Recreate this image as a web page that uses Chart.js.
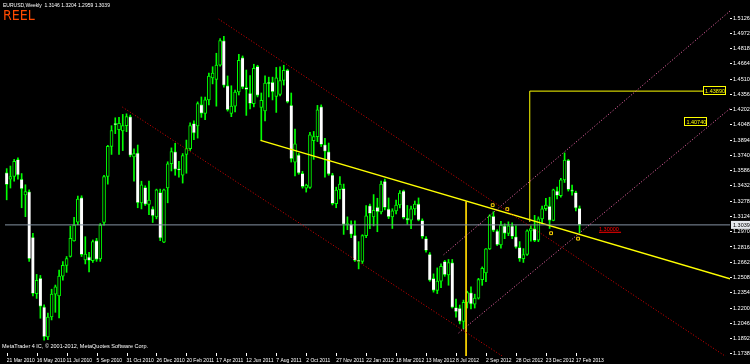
<!DOCTYPE html>
<html>
<head>
<meta charset="utf-8">
<script src="https://cdn.jsdelivr.net/npm/chart.js@4.4.1/dist/chart.umd.min.js"></script>
<style>
  html, body { margin: 0; padding: 0; background: #000; }
  canvas { display: block; }
</style>
</head>
<body>
<canvas id="chart" width="750" height="364"></canvas>
<script>
"use strict";

// EURUSD weekly bars, bar 0 = week of 21 Mar 2010
const opens = [
  1.3567, 1.3500, 1.3527, 1.3700, 1.3501, 1.3341, 1.3375, 1.2917, 1.2346, 1.2502,
  1.2213, 1.1908, 1.2110, 1.2340, 1.2323, 1.2522, 1.2630, 1.2720, 1.2877, 1.3066,
  1.3315, 1.2685, 1.2718, 1.2678, 1.2880, 1.2695, 1.3063, 1.3527, 1.3832, 1.4064,
  1.4000, 1.3988, 1.4041, 1.4131, 1.3726, 1.3766, 1.3262, 1.3418, 1.3245, 1.3202,
  1.3119, 1.3368, 1.2864, 1.3411, 1.3656, 1.3780, 1.3607, 1.3540, 1.3749, 1.3809,
  1.4064, 1.4038, 1.4253, 1.4164, 1.4300, 1.4522, 1.4506, 1.4652, 1.4900, 1.4446,
  1.4164, 1.4237, 1.4380, 1.4728, 1.4426, 1.4370, 1.4263, 1.4638, 1.4224, 1.4190,
  1.4479, 1.4479, 1.4336, 1.4356, 1.4496, 1.4602, 1.4247, 1.3673, 1.3746, 1.3560,
  1.3410, 1.3418, 1.3890, 1.3930, 1.4234, 1.3849, 1.3780, 1.3544, 1.3252, 1.3394,
  1.3408, 1.3043, 1.3046, 1.2937, 1.2678, 1.2671, 1.2930, 1.3235, 1.3119, 1.3219,
  1.3169, 1.3480, 1.3202, 1.3119, 1.3180, 1.3240, 1.3384, 1.3109, 1.3086, 1.3200,
  1.3252, 1.3086, 1.2903, 1.2744, 1.2500, 1.2379, 1.2472, 1.2671, 1.2535, 1.2658,
  1.2207, 1.2200, 1.2064, 1.2257, 1.2356, 1.2240, 1.2300, 1.2486, 1.2555, 1.2797,
  1.3129, 1.2980, 1.2837, 1.3029, 1.2953, 1.3029, 1.2920, 1.2813, 1.2697, 1.2740,
  1.2979, 1.3003, 1.2886, 1.3100, 1.3202, 1.3228, 1.3085, 1.3384, 1.3334, 1.3493,
  1.3693, 1.3394, 1.3367, 1.3208
];
const highs = [
  1.3607, 1.3633, 1.3700, 1.3716, 1.3557, 1.3444, 1.3394, 1.2953, 1.2539, 1.2529,
  1.2233, 1.2150, 1.2390, 1.2432, 1.2582, 1.2670, 1.2720, 1.3026, 1.3116, 1.3330,
  1.3333, 1.2920, 1.2761, 1.2887, 1.2903, 1.3053, 1.3540, 1.3842, 1.4040, 1.4120,
  1.4124, 1.4154, 1.4160, 1.4147, 1.3806, 1.3845, 1.3480, 1.3434, 1.3480, 1.3222,
  1.3400, 1.3400, 1.3400, 1.3676, 1.3816, 1.3862, 1.3680, 1.3759, 1.3895, 1.4070,
  1.4090, 1.4280, 1.4330, 1.4330, 1.4570, 1.4635, 1.4771, 1.4920, 1.4943, 1.4542,
  1.4443, 1.4400, 1.4760, 1.4744, 1.4602, 1.4545, 1.4660, 1.4650, 1.4370, 1.4542,
  1.4530, 1.4530, 1.4628, 1.4635, 1.4650, 1.4610, 1.4370, 1.4005, 1.3760, 1.3580,
  1.3450, 1.3972, 1.3982, 1.4245, 1.4250, 1.3912, 1.3865, 1.3560, 1.3420, 1.3527,
  1.3451, 1.3120, 1.3080, 1.3079, 1.2870, 1.2940, 1.3235, 1.3250, 1.3345, 1.3308,
  1.3480, 1.3501, 1.3311, 1.3202, 1.3290, 1.3385, 1.3390, 1.3235, 1.3230, 1.3280,
  1.3311, 1.3100, 1.2920, 1.2760, 1.2545, 1.2605, 1.2645, 1.2680, 1.2690, 1.2690,
  1.2290, 1.2230, 1.2280, 1.2370, 1.2413, 1.2340, 1.2500, 1.2615, 1.2800, 1.3142,
  1.3172, 1.2990, 1.3075, 1.3050, 1.3070, 1.3060, 1.3029, 1.2870, 1.2800, 1.2990,
  1.3029, 1.3135, 1.3120, 1.3230, 1.3308, 1.3318, 1.3400, 1.3420, 1.3510, 1.3765,
  1.3700, 1.3440, 1.3380, 1.3230
];
const lows = [
  1.3292, 1.3411, 1.3480, 1.3500, 1.3212, 1.3122, 1.2671, 1.2323, 1.2297, 1.2097,
  1.1875, 1.1880, 1.2080, 1.2157, 1.2101, 1.2480, 1.2560, 1.2714, 1.2874, 1.3040,
  1.2720, 1.2645, 1.2565, 1.2660, 1.2671, 1.2671, 1.3036, 1.3450, 1.3750, 1.3960,
  1.3749, 1.3789, 1.3980, 1.3726, 1.3481, 1.3212, 1.3200, 1.3235, 1.3142, 1.3063,
  1.3100, 1.2880, 1.2860, 1.3262, 1.3583, 1.3540, 1.3520, 1.3461, 1.3560, 1.3790,
  1.3900, 1.3915, 1.4124, 1.4100, 1.4250, 1.4462, 1.4237, 1.4640, 1.4430, 1.4187,
  1.4131, 1.4180, 1.4350, 1.4413, 1.4144, 1.4210, 1.4230, 1.4330, 1.3892, 1.4088,
  1.4330, 1.4300, 1.4174, 1.4340, 1.4450, 1.4270, 1.3673, 1.3534, 1.3550, 1.3410,
  1.3370, 1.3408, 1.3700, 1.3880, 1.3830, 1.3520, 1.3540, 1.3240, 1.3212, 1.3302,
  1.2943, 1.2990, 1.2910, 1.2671, 1.2595, 1.2650, 1.2910, 1.3000, 1.3029, 1.2970,
  1.3150, 1.3190, 1.3102, 1.3003, 1.3150, 1.3210, 1.3100, 1.3046, 1.3000, 1.3140,
  1.3080, 1.2903, 1.2764, 1.2470, 1.2360, 1.2346, 1.2406, 1.2520, 1.2430, 1.2200,
  1.2107, 1.2040, 1.1990, 1.2200, 1.2190, 1.2200, 1.2290, 1.2429, 1.2466, 1.2790,
  1.2970, 1.2830, 1.2804, 1.2900, 1.2930, 1.2900, 1.2804, 1.2671, 1.2660, 1.2730,
  1.2876, 1.2870, 1.2870, 1.3060, 1.3185, 1.3003, 1.3080, 1.3300, 1.3320, 1.3467,
  1.3380, 1.3340, 1.3180, 1.2959
];
const closes = [
  1.3444, 1.3527, 1.3680, 1.3540, 1.3401, 1.3375, 1.2695, 1.2346, 1.2480, 1.2217,
  1.1908, 1.2110, 1.2340, 1.2413, 1.2522, 1.2630, 1.2700, 1.2903, 1.3036, 1.3300,
  1.2738, 1.2744, 1.2678, 1.2870, 1.2691, 1.3036, 1.3527, 1.3832, 1.3990, 1.4048,
  1.4064, 1.4041, 1.4131, 1.3739, 1.3759, 1.3262, 1.3444, 1.3245, 1.3290, 1.3129,
  1.3394, 1.2904, 1.3394, 1.3656, 1.3780, 1.3600, 1.3590, 1.3739, 1.3809, 1.4040,
  1.3965, 1.4263, 1.4164, 1.4300, 1.4540, 1.4572, 1.4652, 1.4900, 1.4446, 1.4200,
  1.4237, 1.4380, 1.4700, 1.4429, 1.4403, 1.4263, 1.4620, 1.4346, 1.4297, 1.4469,
  1.4462, 1.4380, 1.4522, 1.4496, 1.4600, 1.4280, 1.3706, 1.3856, 1.3560, 1.3424,
  1.3440, 1.3948, 1.3930, 1.4200, 1.3849, 1.3780, 1.3550, 1.3252, 1.3390, 1.3451,
  1.3043, 1.3050, 1.2943, 1.2678, 1.2671, 1.2930, 1.3130, 1.3152, 1.3185, 1.3169,
  1.3450, 1.3212, 1.3119, 1.3180, 1.3240, 1.3360, 1.3112, 1.3086, 1.3200, 1.3250,
  1.3086, 1.2920, 1.2780, 1.2479, 1.2379, 1.2472, 1.2620, 1.2535, 1.2658, 1.2207,
  1.2160, 1.2064, 1.2257, 1.2356, 1.2240, 1.2300, 1.2486, 1.2600, 1.2797, 1.3130,
  1.2983, 1.2837, 1.3036, 1.2953, 1.3030, 1.2920, 1.2813, 1.2697, 1.2740, 1.2979,
  1.3003, 1.2880, 1.3100, 1.3202, 1.3240, 1.3085, 1.3394, 1.3334, 1.3493, 1.3693,
  1.3394, 1.3374, 1.3208, 1.3039
];

// one time label every 8 bars
const dateLabels = [
  "21 Mar 2010", "16 May 2010", "11 Jul 2010", "5 Sep 2010", "31 Oct 2010",
  "26 Dec 2010", "20 Feb 2011", "17 Apr 2011", "12 Jun 2011", "7 Aug 2011",
  "2 Oct 2011", "27 Nov 2011", "22 Jan 2012", "18 Mar 2012", "13 May 2012",
  "8 Jul 2012", "2 Sep 2012", "28 Oct 2012", "23 Dec 2012", "17 Feb 2013"
];
const dateStep = 8;
const priceTicks = [
  1.5126, 1.4972, 1.4818, 1.4664, 1.4510, 1.4356, 1.4202, 1.4048, 1.3894, 1.3740,
  1.3586, 1.3432, 1.3278, 1.3124, 1.2970, 1.2816, 1.2662, 1.2508, 1.2354, 1.2200,
  1.2046, 1.1892, 1.1738
];
const lastPrice = 1.3039;
const titleText = "EURUSD,Weekly  1.3146 1.3204 1.2959 1.3039";

// objects drawn on the chart, as [bar index, price]
const trendLine = [[67.8, 1.3892], [193.2, 1.2495]];
const redUpper = [[56.6, 1.5116], [193.2, 1.1682]];
const redLower = [[30.9, 1.4228], [133.5, 1.1687]];
const pinkUpper = [[116.7, 1.2738], [193.2, 1.5198]];
const pinkLower = [[120.7, 1.1948], [193.2, 1.4213]];
const lowMeasure = [[122.7, 1.3275], [122.7, 1.1716]];
const targetLine = [[139.7, 1.3069], [139.7, 1.4389], [186.0, 1.4389]];
const arrowMarks = [[129.8, 1.3238], [133.7, 1.3198], [145.4, 1.2955], [152.6, 1.2900]];
const targetBoxes = [
  { at: [186.0, 1.4389], text: "1.43890" },
  { at: [181.0, 1.4074], text: "1.40740" }
];
const redLabel = { at: [158.2, 1.3000], text: "1.30000" };

const bars = opens.map((o, i) => i);
const pts = (arr) => arr.map(([x, y]) => ({ x, y }));

function lineSet(data, color, dash, width) {
  return {
    type: "line",
    data: pts(data),
    borderColor: color,
    borderWidth: width || 1,
    borderDash: dash || [],
    pointRadius: 0,
    fill: false,
    tension: 0,
    order: 0,
  };
}

const textPlugin = {
  id: "mtText",
  beforeDraw(chart) {
    const c = chart.ctx;
    c.save();
    c.fillStyle = "#000";
    c.fillRect(0, 0, chart.width, chart.height);
    c.restore();
  },
  afterDraw(chart) {
    const c = chart.ctx;
    const xs = chart.scales.x;
    const ys = chart.scales.y;
    c.save();
    c.textBaseline = "alphabetic";

    c.fillStyle = "#ffffff";
    c.font = '5px "Liberation Sans"';
    c.fillText(titleText, 3, 7);

    c.fillStyle = "#ff4a00";
    c.font = '14px "Liberation Sans Narrow", "DejaVu Sans Condensed", sans-serif';
    c.fillText("REEL", 3, 20);

    c.fillStyle = "#ffffff";
    c.font = '5.5px "Liberation Sans"';
    c.fillText("MetaTrader 4 IC, \u00a9 2001-2012, MetaQuotes Software Corp.", 2, 348);

    // time scale
    c.font = '5px "Liberation Sans"';
    c.fillStyle = "#ffffff";
    dateLabels.forEach((t, k) => {
      const px = xs.getPixelForValue(k * dateStep);
      c.fillText(t, px, 362);
      c.fillRect(Math.round(px), 353, 1, 3);
    });

    // target boxes
    c.font = '5.5px "Liberation Sans"';
    targetBoxes.forEach((b) => {
      const px = xs.getPixelForValue(b.at[0]);
      const py = ys.getPixelForValue(b.at[1]);
      c.strokeStyle = "#ffff00";
      c.lineWidth = 1;
      c.strokeRect(Math.round(px) + 0.5, Math.round(py) - 4.5, 22, 8);
      c.fillStyle = "#ffff00";
      c.fillText(b.text, px + 2, py + 2);
    });

    // red label
    const rx = xs.getPixelForValue(redLabel.at[0]);
    const ry = ys.getPixelForValue(redLabel.at[1]);
    c.fillStyle = "#ff0000";
    c.fillText(redLabel.text, rx, ry + 2);
    c.fillRect(rx, ry + 3, 22, 1);

    // last price tag on the axis
    const ly = ys.getPixelForValue(lastPrice);
    c.fillStyle = "#e6e9ee";
    c.fillRect(ys.left + 1, ly - 4, 20, 8);
    c.fillStyle = "#000";
    c.fillText(lastPrice.toFixed(4), ys.left + 3, ly + 2);
    c.restore();
  },
};

new Chart(document.getElementById("chart"), {
  type: "bar",
  data: {
    datasets: [
      lineSet(redUpper, "#e00000", [1, 2]),
      lineSet(redLower, "#e00000", [1, 2]),
      lineSet(pinkUpper, "#ff6eb4", [1, 2]),
      lineSet(pinkLower, "#ff6eb4", [1, 2]),
      lineSet([[-1, lastPrice], [194, lastPrice]], "#8593a3", [], 1),
      lineSet(trendLine, "#ffff00", [], 1.5),
      lineSet(lowMeasure, "#ffd700", [], 1),
      lineSet(targetLine, "#ffff00", [], 1),
      {
        type: "line",
        data: pts(arrowMarks),
        showLine: false,
        pointStyle: "rect",
        pointRadius: 2,
        pointBorderColor: "#ffd400",
        pointBackgroundColor: "rgba(0,0,0,0)",
        pointBorderWidth: 1,
        order: 0,
      },
      {
        label: "wick",
        data: bars.map((i) => ({ x: i, y: [lows[i], highs[i]] })),
        backgroundColor: "#00ff00",
        borderWidth: 0,
        barThickness: 1,
        grouped: false,
        order: 3,
      },
      {
        label: "body",
        data: bars.map((i) => ({ x: i, y: [opens[i], closes[i]] })),
        backgroundColor: (ctx) =>
          closes[ctx.dataIndex] >= opens[ctx.dataIndex] ? "#000000" : "#ffffff",
        borderColor: "#00ff00",
        borderWidth: (ctx) =>
          closes[ctx.dataIndex] >= opens[ctx.dataIndex]
            ? 1
            : { top: 1, bottom: 1, left: 0, right: 0 },
        borderSkipped: false,
        barThickness: 3,
        minBarLength: 1,
        grouped: false,
        order: 2,
      },
    ],
  },
  options: {
    responsive: false,
    animation: false,
    events: [],
    layout: { padding: 0 },
    plugins: { legend: { display: false }, tooltip: { enabled: false } },
    scales: {
      x: {
        type: "linear",
        min: -0.45,
        max: 193.18,
        offset: false,
        grid: { display: false },
        border: { display: false },
        afterFit: (s) => { s.height = 8; },
        ticks: { display: false },
      },
      y: {
        type: "linear",
        position: "right",
        min: 1.1716,
        max: 1.5258,
        grid: { drawOnChartArea: false, tickLength: 2, color: "#ffffff" },
        border: { display: false },
        afterBuildTicks: (s) => {
          s.ticks = priceTicks.map((v) => ({ value: v }));
        },
        afterFit: (s) => { s.width = 20; },
        ticks: {
          padding: 1,
          color: "#ffffff",
          font: { family: "Liberation Sans", size: 5.5 },
          callback: (v) => v.toFixed(4),
        },
      },
    },
  },
  plugins: [textPlugin],
});
</script>
</body>
</html>
